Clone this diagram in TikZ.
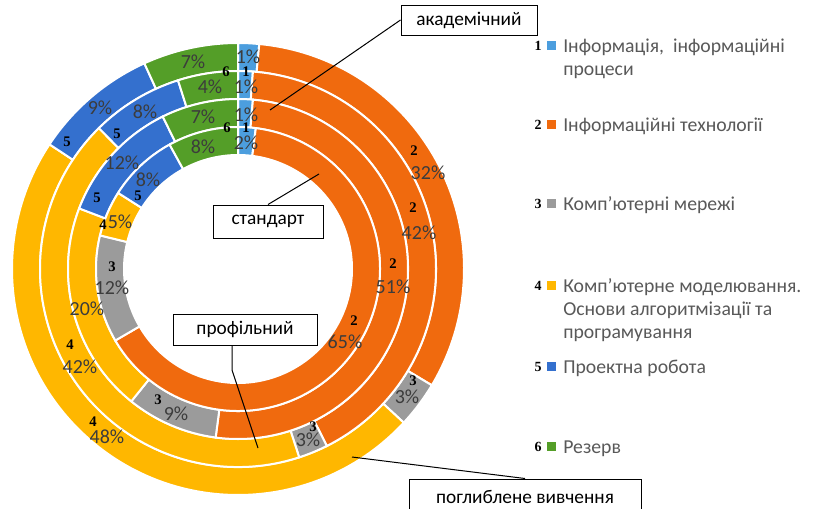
\documentclass[tikz,border=0pt]{standalone}
\usepackage{fontspec}
\setmainfont{Carlito}
\newfontfamily\numfont{Liberation Serif}
\definecolor{cA}{RGB}{76,158,222}
\definecolor{cB}{RGB}{240,106,14}
\definecolor{cC}{RGB}{155,155,155}
\definecolor{cD}{RGB}{255,183,0}
\definecolor{cE}{RGB}{52,112,206}
\definecolor{cF}{RGB}{84,158,40}
\definecolor{pctgray}{RGB}{60,60,60}
\definecolor{leggray}{RGB}{89,89,89}
\newcommand{\donutseg}[5]{%
  \filldraw[fill=#1, draw=white, line width=1.5pt]
    ({#4*3.6-90}:#3) arc[start angle={#4*3.6-90}, end angle={#5*3.6-90}, radius=#3]
    -- ({#5*3.6-90}:#2) arc[start angle={#5*3.6-90}, end angle={#4*3.6-90}, radius=#2] -- cycle;}
\tikzset{
  pct/.style={font=\fontsize{15}{17}\selectfont, text=pctgray, inner sep=0pt},
  num/.style={font=\numfont\bfseries\fontsize{11}{13}\selectfont, text=black, inner sep=0pt},
  lbox/.style={draw=black, line width=0.75pt, fill=white, font=\fontsize{14.5}{16}\selectfont, text=black, inner sep=0pt},
  leg/.style={anchor=base west, font=\fontsize{14.8}{17}\selectfont, text=leggray, inner sep=0pt},
  legnum/.style={font=\numfont\bfseries\fontsize{10.5}{12}\selectfont, text=black, inner sep=0pt},
  legsq/.style={minimum size=6.75pt, inner sep=0pt},
  conn/.style={draw=black, line width=0.75pt}
}
\begin{document}
\begin{tikzpicture}[x=0.75pt,y=-0.75pt]
\path[use as bounding box, clip] (0,0) rectangle (816,508);
\fill[white] (0,0) rectangle (816,508);
\begin{scope}[shift={(238,269)}]
% outer ring: поглиблене вивчення
\donutseg{cA}{198}{226}{0}{1.5}
\donutseg{cB}{198}{226}{1.5}{33.6}
\donutseg{cC}{198}{226}{33.6}{36.9}
\donutseg{cD}{198}{226}{36.9}{84.3}
\donutseg{cE}{198}{226}{84.3}{93.2}
\donutseg{cF}{198}{226}{93.2}{100}
% ring 2: профільний
\donutseg{cA}{170}{198}{0}{1.2}
\donutseg{cB}{170}{198}{1.2}{42.6}
\donutseg{cC}{170}{198}{42.6}{45}
\donutseg{cD}{170}{198}{45}{87.6}
\donutseg{cE}{170}{198}{87.6}{95.1}
\donutseg{cF}{170}{198}{95.1}{100}
% ring 3: академічний
\donutseg{cA}{142}{170}{0}{1.4}
\donutseg{cB}{142}{170}{1.4}{52.1}
\donutseg{cC}{142}{170}{52.1}{60.8}
\donutseg{cD}{142}{170}{60.8}{80.8}
\donutseg{cE}{142}{170}{80.8}{92.7}
\donutseg{cF}{142}{170}{92.7}{100}
% inner ring: стандарт
\donutseg{cA}{114}{142}{0}{2}
\donutseg{cB}{114}{142}{2}{66.6}
\donutseg{cC}{114}{142}{66.6}{78.8}
\donutseg{cD}{114}{142}{78.8}{84}
\donutseg{cE}{114}{142}{84}{92}
\donutseg{cF}{114}{142}{92}{100}
\end{scope}
% outer ring labels
\node[pct] (o1p) at (248,57) {1\%};
\node[num] (o2n) at (414,151) {2};
\node[pct] (o2p) at (428,173) {32\%};
\node[num] (o3n) at (413,381) {3};
\node[pct] (o3p) at (407,397) {3\%};
\node[num] (o4n) at (93,422) {4};
\node[pct] (o4p) at (107,437) {48\%};
\node[num] (o5n) at (67,142) {5};
\node[pct] (o5p) at (100,108) {9\%};
\node[pct] (o6p) at (193,62) {7\%};
\node[num] (t6a) at (226,72) {6};
\node[num] (t1a) at (246,72) {1};
% ring 2 labels
\node[pct] (r2p1) at (246,87) {1\%};
\node[pct] (r2p6) at (210,87) {4\%};
\node[pct] (r2p5) at (145,112) {8\%};
\node[num] (r2n5) at (117,134) {5};
\node[num] (r2n2) at (413,208) {2};
\node[pct] (r2p2) at (419,233) {42\%};
\node[num] (r2n3) at (313,427) {3};
\node[pct] (r2p3) at (308,440) {3\%};
\node[num] (r2n4) at (70,345) {4};
\node[pct] (r2p4) at (80,367) {42\%};
\node[num] (t6b) at (227,128) {6};
\node[num] (t1b) at (246,128) {1};
% ring 3 labels
\node[pct] (r3p1) at (246,115) {1\%};
\node[pct] (r3p6) at (203,117) {7\%};
\node[pct] (r3p5) at (122,163) {12\%};
\node[num] (r3n5) at (97,198) {5};
\node[num] (r3n2) at (393,264) {2};
\node[pct] (r3p2) at (393,287) {51\%};
\node[num] (r3n3) at (158,400) {3};
\node[pct] (r3p3) at (176,414) {9\%};
\node[pct] (r3p4) at (87,309) {20\%};
% inner ring labels
\node[pct] (r4p1) at (246,143) {2\%};
\node[pct] (r4p6) at (203,147) {8\%};
\node[pct] (r4p5) at (148,180) {8\%};
\node[num] (r4n5) at (138,196) {5};
\node[num] (r4n4) at (103,225) {4};
\node[pct] (r4p4) at (120,222) {5\%};
\node[num] (r4n3) at (112,267) {3};
\node[pct] (r4p3) at (112,288) {12\%};
\node[num] (r4n2) at (354,321) {2};
\node[pct] (r4p2) at (345,342) {65\%};
% callout boxes
\node[lbox, minimum width=102pt, minimum height=22.5pt] (akad) at (469,20) {академічний};
\node[lbox, minimum width=82.5pt, minimum height=24.75pt] (stand) at (268,221.5) {стандарт};
\node[lbox, minimum width=108pt, minimum height=23.25pt] (prof) at (245,329.5) {профільний};
\node[lbox, minimum width=174pt, minimum height=27pt] (pogl) at (525,497) {поглиблене вивчення};
\coordinate (akadEnd) at (270,110);
\coordinate (standEnd) at (319,174);
\coordinate (profBend) at (232,370);
\coordinate (profEnd) at (258,448);
\coordinate (poglEnd) at (352,457);
\draw[conn] (akad.west) -- (akadEnd);
\draw[conn] (stand.north) -- (standEnd);
\draw[conn] (prof.south -| profBend) -- (profBend) -- (profEnd);
\draw[conn] (poglEnd) -- (pogl.north);
% legend
\node[legnum] (ln1) at (538,45.5) {1};
\node[legsq, fill=cA] (ls1) at (551.5,45.5) {};
\node[leg] (lt1a) at (563,52) {Інформація,\ \ інформаційні};
\node[leg] (lt1b) at (563,75) {процеси};
\node[legnum] (ln2) at (538,124.5) {2};
\node[legsq, fill=cB] (ls2) at (551.5,124.5) {};
\node[leg] (lt2) at (563,131) {Інформаційні технології};
\node[legnum] (ln3) at (538,203.5) {3};
\node[legsq, fill=cC] (ls3) at (551.5,203.5) {};
\node[leg] (lt3) at (563,210) {Комп’ютерні мережі};
\node[legnum] (ln4) at (538,285.5) {4};
\node[legsq, fill=cD] (ls4) at (551.5,285.5) {};
\node[leg] (lt4a) at (563,292) {Комп’ютерне моделювання.};
\node[leg] (lt4b) at (563,315) {Основи алгоритмізації та};
\node[leg] (lt4c) at (563,338) {програмування};
\node[legnum] (ln5) at (538,366.5) {5};
\node[legsq, fill=cE] (ls5) at (551.5,366.5) {};
\node[leg] (lt5) at (563,373) {Проектна робота};
\node[legnum] (ln6) at (538,446.5) {6};
\node[legsq, fill=cF] (ls6) at (551.5,446.5) {};
\node[leg] (lt6) at (563,453) {Резерв};
\end{tikzpicture}
\end{document}
